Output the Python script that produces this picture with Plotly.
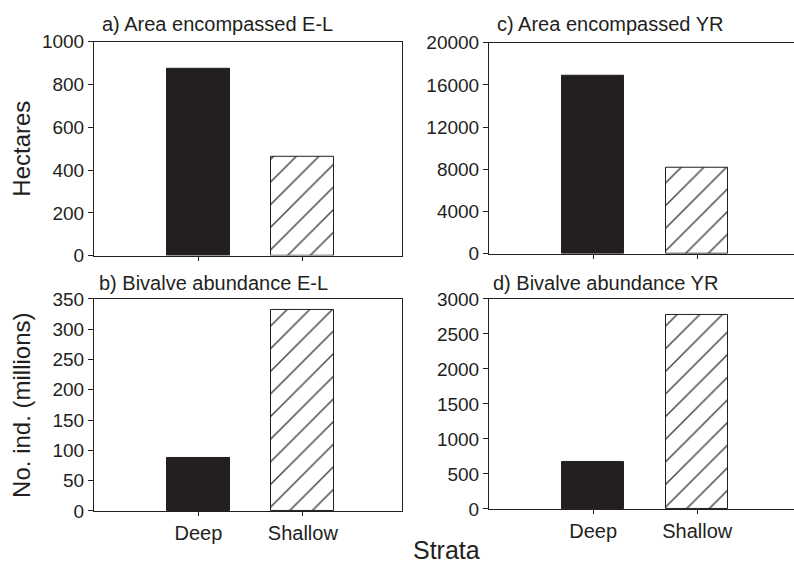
import plotly.graph_objects as go

# ---- data ----
strata = ["Deep", "Shallow"]
area_el = [872, 464]          # a) hectares
area_yr = [16830, 8130]       # c) hectares
abund_el = [87.6, 331.5]      # b) millions
abund_yr = [674, 2774]        # d) millions

titles = ["a) Area encompassed E-L", "b) Bivalve abundance E-L",
          "c) Area encompassed YR", "d) Bivalve abundance YR"]
y_ranges = [[0, 1000], [0, 350], [0, 20000], [0, 3000]]
y_dticks = [200, 50, 4000, 500]

INK = "#231f20"
FONT = "Liberation Sans, Arial, Helvetica, sans-serif"
W, H = 794, 571

# panel pixel boxes (left, right, top, bottom)
boxes = {
    "a": (94, 402, 33, 255),
    "b": (94, 402, 300, 520),
    "c": (489, 794, 34, 253),
    "d": (489, 794, 300, 518),
}
series = {"a": area_el, "b": abund_el, "c": area_yr, "d": abund_yr}
order = ["a", "b", "c", "d"]

fig = go.Figure()
layout = {}
for i, key in enumerate(order):
    n = "" if i == 0 else str(i + 1)
    l, r, t, b = boxes[key]
    xd = [l / W, min(r / W, 1.0)]
    yd = [1 - b / H, 1 - t / H]
    right_panel = key in ("c", "d")
    fig.add_trace(go.Bar(
        x=strata, y=series[key], width=0.6,
        xaxis="x" + n, yaxis="y" + n,
        marker=dict(
            color=[INK, "white"],
            line=dict(color=INK, width=1),
            pattern=dict(shape=["", "/"], fgcolor="#000000", bgcolor="white",
                         fgopacity=1, size=16, solidity=0.09,
                         fillmode="overlay"),
        ),
        showlegend=False, hoverinfo="skip",
    ))
    show_xlabels = key in ("b", "d")
    layout["xaxis" + n] = dict(
        domain=xd, anchor="y" + n, type="category",
        range=[-1, 1.93] if right_panel else [-1, 1.95],
        showline=True, linecolor=INK, linewidth=1, mirror=True,
        ticks="outside", ticklen=4, tickcolor=INK, tickwidth=1,
        showticklabels=show_xlabels,
        tickfont=dict(family=FONT, size=20, color=INK),
        showgrid=False, zeroline=False, fixedrange=True,
    )
    layout["yaxis" + n] = dict(
        domain=yd, anchor="x" + n,
        range=y_ranges[i], dtick=y_dticks[i], tickformat="d",
        showline=True, linecolor=INK, linewidth=1,
        mirror=False if right_panel else True,
        ticks="outside", ticklen=5, tickcolor=INK, tickwidth=1,
        tickfont=dict(family=FONT, size=19, color=INK),
        showgrid=False, zeroline=False, fixedrange=True,
    )

annotations = []
title_pos = {"a": (100, 28), "b": (97, 297), "c": (495, 28), "d": (491, 297)}
for key, txt in zip(["a", "b", "c", "d"], titles):
    x, y = title_pos[key]
    annotations.append(dict(
        text=txt, x=x / W, y=1 - y / H, xref="paper", yref="paper",
        xanchor="left", yanchor="bottom", showarrow=False,
        font=dict(family=FONT, size=20, color=INK)))

annotations.append(dict(text="Hectares", x=22 / W, y=1 - 144 / H,
                        xref="paper", yref="paper", textangle=-90,
                        showarrow=False, xanchor="center", yanchor="middle",
                        font=dict(family=FONT, size=24, color=INK)))
annotations.append(dict(text="No. ind. (millions)", x=22 / W, y=1 - 411 / H,
                        xref="paper", yref="paper", textangle=-90,
                        showarrow=False, xanchor="center", yanchor="middle",
                        font=dict(family=FONT, size=24, color=INK)))
annotations.append(dict(text="Strata", x=446 / W, y=1 - 561 / H,
                        xref="paper", yref="paper",
                        showarrow=False, xanchor="center", yanchor="middle",
                        font=dict(family=FONT, size=25, color=INK)))

fig.update_layout(
    width=W, height=H, margin=dict(l=0, r=0, t=0, b=0),
    paper_bgcolor="white", plot_bgcolor="white",
    bargap=0, annotations=annotations, **layout,
)

fig.write_html("out.html", config={"displayModeBar": False})
